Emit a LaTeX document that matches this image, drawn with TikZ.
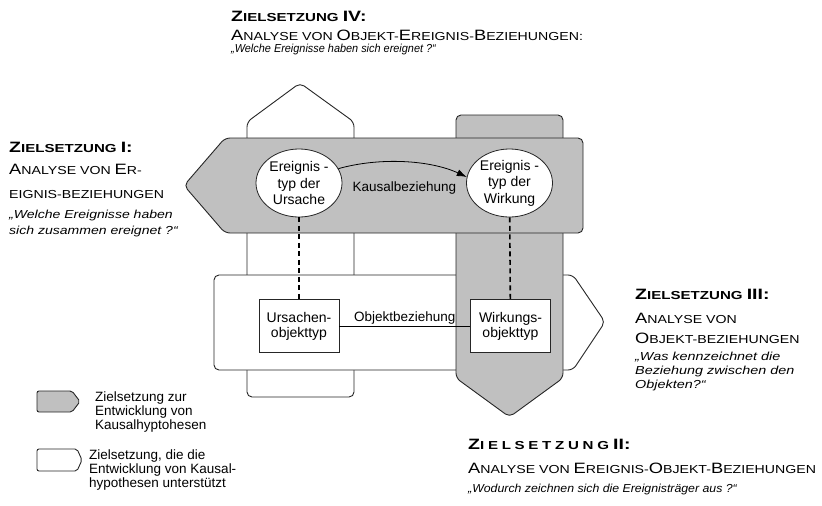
\documentclass[tikz,border=0pt]{standalone}
\usepackage{fontspec}
\setmainfont{Liberation Sans}
\newfontfamily\kapfont[FakeStretch=1.22]{Liberation Sans}
\newfontfamily\kopffont[FakeStretch=1.3]{Liberation Sans}
\usetikzlibrary{arrows.meta,shapes.geometric}
\definecolor{zielgrau}{RGB}{192,192,192}
\newcommand\Gross[1]{{\fontsize{15}{15}\selectfont #1}}

\begin{document}
\begin{tikzpicture}[x=1pt,y=-1pt,
ziel/.style={draw=black!85,line width=0.9pt,rounded corners=5pt},
kausal/.style={ziel,fill=zielgrau},
stuetz/.style={ziel,fill=white},
typ/.style={ellipse,draw=black!85,line width=0.8pt,fill=white,
  minimum width=86pt,minimum height=68pt,inner sep=0pt,align=center,
  font=\fontsize{14}{16.5}\selectfont},
objtyp/.style={rectangle,draw=black!85,line width=0.8pt,fill=white,
  minimum width=80pt,minimum height=53pt,inner sep=0pt,align=center,
  font=\fontsize{14}{15}\selectfont},
zuordnung/.style={line width=1.6pt,dash pattern=on 5pt off 3.5pt},
kopf/.style={anchor=base west,inner sep=0pt,
  font=\kopffont\bfseries\fontsize{11.6}{12}\selectfont},
kap/.style={anchor=base west,inner sep=0pt,
  font=\kapfont\fontsize{11.6}{12}\selectfont},
frage/.style={anchor=base west,inner sep=0pt,
  font=\itshape\fontsize{11.6}{12}\selectfont\addfontfeature{FakeStretch=#1}},
legtext/.style={anchor=base west,inner sep=0pt,font=\fontsize{13.5}{14}\selectfont}]
\useasboundingbox (0,0) rectangle (822,506);

% Zielsetzungen als Pfeile (von hinten nach vorne)
\draw[stuetz] (247,397) -- (247,122) -- (300,83) -- (354,122) -- (354,397) -- cycle;
\draw[stuetz] (214,275) -- (573,275) -- (605,322) -- (573,370) -- (214,370) -- cycle;
\draw[kausal] (456,115) -- (563,115) -- (563,378) -- (509.5,417) -- (456,378) -- cycle;
\draw[kausal] (583,138) -- (583,233) -- (225,233) -- (184,185.5) -- (225,138) -- cycle;

\node[typ] (ursache) at (299,183) {Ereignis -\\typ der\\Ursache};
\node[typ] (wirkung) at (509.5,183) {Ereignis -\\typ der\\Wirkung};
\node[objtyp] (ursobj) at (299,326) {Ursachen-\\objekttyp};
\node[objtyp] (wirkobj) at (510.5,326) {Wirkungs-\\objekttyp};

\draw[line width=0.8pt,-{Latex[length=10pt,width=7pt]}] (ursache.20)
  .. controls (380,157) and (430,160) .. node[pos=.5,below=16pt,font=\fontsize{13.5}{14}\selectfont] {Kausalbeziehung} (wirkung.172);
\draw[zuordnung] (ursache) -- (ursobj);
\draw[zuordnung] (wirkung) -- (wirkobj);
\draw[line width=0.6pt] (ursobj) -- node[above,inner sep=1pt,font=\fontsize{13.5}{14}\selectfont] {Objektbeziehung} (wirkobj);

% Zielsetzung IV
\node[kopf] (z4kopf) at (231,21) {\Gross{Z}IELSETZUNG \Gross{IV:}};
\node[kap] (z4titel) at (231,40) {\Gross{A}NALYSE VON \Gross{O}BJEKT-\Gross{E}REIGNIS-\Gross{B}EZIEHUNGEN:};
\node[frage=0.94] (z4frage) at (231,52) {„Welche Ereignisse haben sich ereignet ?“};

% Zielsetzung I
\node[kopf] (z1kopf) at (9,152) {\Gross{Z}IELSETZUNG \Gross{I:}};
\node[kap] (z1titel) at (9,174) {\Gross{A}NALYSE VON \Gross{E}R-};
\node[kap] (z1titelb) at (9,198) {EIGNIS-BEZIEHUNGEN};
\node[frage=1.21] (z1frage) at (9,218) {„Welche Ereignisse haben};
\node[frage=1.21] (z1frageb) at (9,234) {sich zusammen ereignet ?“};

% Zielsetzung III
\node[kopf] (z3kopf) at (635,299) {\Gross{Z}IELSETZUNG \Gross{III:}};
\node[kap] (z3titel) at (635,323) {\Gross{A}NALYSE VON};
\node[kap] (z3titelb) at (635,343) {\Gross{O}BJEKT-BEZIEHUNGEN};
\node[frage=1.24] (z3frage) at (635,360) {„Was kennzeichnet die};
\node[frage=1.24] (z3frageb) at (635,374) {Beziehung zwischen den};
\node[frage=1.24] (z3fragec) at (635,388) {Objekten?“};

% Zielsetzung II
\node[kopf] (z2kopf) at (468,449)
  {\Gross{Z}{\addfontfeature{LetterSpace=32}IELSETZUNG} \Gross{II:}};
\node[kap] (z2titel) at (468,473) {\Gross{A}NALYSE VON \Gross{E}REIGNIS-\Gross{O}BJEKT-\Gross{B}EZIEHUNGEN};
\node[frage=1.06] (z2frage) at (468,492) {„Wodurch zeichnen sich die Ereignisträger aus ?“};

% Legende
\draw[kausal,rounded corners=2pt] (37,391) -- (72,391) -- (80,401.5) -- (72,412) -- (37,412) -- cycle;
\draw[stuetz,rounded corners=2pt] (37,449) -- (77,449) -- (82,460) -- (77,471) -- (37,471) -- cycle;
\foreach \zeile [count=\i] in {Zielsetzung zur,Entwicklung von,Kausalhyptohesen}
  \node[legtext] (lgk\i) at (95,{387.7+14*\i}) {\zeile};
\foreach \zeile [count=\i] in {{Zielsetzung, die die},Entwicklung von Kausal-,hypothesen unterstützt}
  \node[legtext] (lgs\i) at (89,{445.3+14*\i}) {\zeile};
\end{tikzpicture}
\end{document}
